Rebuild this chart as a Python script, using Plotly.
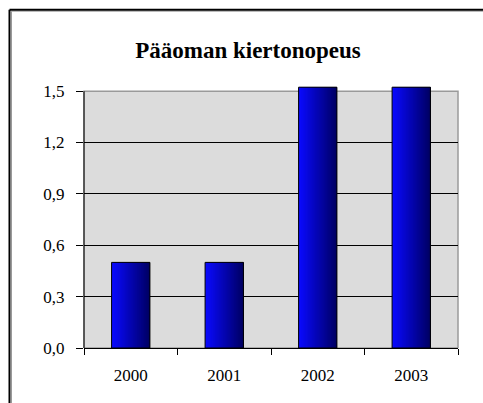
import plotly.graph_objects as go

# ---- data ----
years = ["2000", "2001", "2002", "2003"]
values = [0.5, 0.5, 1.523, 1.523]
y_ticks = [0.0, 0.3, 0.6, 0.9, 1.2, 1.5]
grid_ticks = [0.3, 0.6, 0.9, 1.2]
y_top = 1.5
title_text = "Pääoman kiertonopeus"

# ---- style ----
W, H = 483, 403
Y0_PX, Y15_PX = 348, 91          # pixel rows of 0.0 and 1.5
PX_PER = (Y0_PX - Y15_PX) / y_top
YMAX = 1.53                       # a little headroom so bars can overshoot
ML, MR, MB = 84, 25, H - Y0_PX
MT = Y0_PX - YMAX * PX_PER
PW, PH = W - ML - MR, H - MT - MB
FONT = "Liberation Serif, Times New Roman, serif"
BAR_W = 0.41
N_SLICES = 40

def px_x(p):
    return (p - ML) / PW

def px_y(p):
    return (H - MB - p) / PH

fig = go.Figure()

# gradient bars made of thin overlaid slices
start = (10, 10, 255)
end = (0, 0, 100)
sw = BAR_W / N_SLICES
for i in range(N_SLICES):
    t = i / (N_SLICES - 1)
    c = tuple(round(start[k] + (end[k] - start[k]) * t) for k in range(3))
    fig.add_trace(go.Bar(
        x=years, y=values,
        width=min(sw * 3, BAR_W - i * sw),
        offset=-BAR_W / 2 + i * sw,
        marker=dict(color="rgb(%d,%d,%d)" % c, line=dict(width=0)),
        showlegend=False, hoverinfo="skip",
    ))
# outline
fig.add_trace(go.Bar(
    x=years, y=values, width=BAR_W,
    marker=dict(color="rgba(0,0,0,0)", line=dict(color="black", width=1)),
    showlegend=False,
))

# second axis only for interior gridlines
fig.add_trace(go.Scatter(x=years, y=[None] * 4, yaxis="y2", showlegend=False,
                         hoverinfo="skip"))

fig.update_layout(
    width=W, height=H,
    margin=dict(l=ML, r=MR, t=MT, b=MB),
    paper_bgcolor="white",
    plot_bgcolor="white",
    separators=", ",
    barmode="overlay",
    title=dict(text="<b>" + title_text + "</b>",
               font=dict(family=FONT, size=23, color="black"),
               x=px_x(248), xref="paper", xanchor="center",
               y=1 - 50 / H, yanchor="middle"),
    font=dict(family=FONT, size=17, color="black"),
    xaxis=dict(
        type="category", categoryorder="array", categoryarray=years,
        showline=True, linecolor="black", linewidth=1,
        ticks="outside", tickson="boundaries", ticklen=6, tickcolor="black",
        showgrid=False, ticklabelstandoff=12,
        tickfont=dict(family=FONT, size=17, color="black"),
    ),
    yaxis=dict(
        range=[0, YMAX], tickvals=y_ticks, tickformat=".1f",
        showline=False,
        ticks="outside", ticklen=7, tickcolor="black",
        showgrid=False, zeroline=False, ticklabelstandoff=8,
        tickfont=dict(family=FONT, size=17, color="black"),
    ),
    yaxis2=dict(
        overlaying="y", range=[0, YMAX], tickvals=grid_ticks,
        showticklabels=False, showgrid=True, gridcolor="black", gridwidth=1.2,
        zeroline=False, showline=False,
    ),
    shapes=[
        # plot-area background + grey border up to 1.5
        dict(type="rect", xref="paper", yref="y", x0=0, x1=1, y0=0, y1=y_top,
             fillcolor="#dcdcdc", line=dict(color="#9a9a9a", width=1.5),
             layer="below"),
        # y axis line
        dict(type="line", xref="paper", yref="y", x0=0, x1=0, y0=0, y1=y_top,
             line=dict(color="black", width=1)),
        # outer chart frame (only top and left visible)
        dict(type="line", xref="paper", yref="paper",
             x0=px_x(11.5), x1=px_x(W + 5), y0=px_y(11), y1=px_y(11),
             line=dict(color="#9a9a9a", width=1)),
        dict(type="line", xref="paper", yref="paper",
             x0=px_x(11.5), x1=px_x(11.5), y0=px_y(11), y1=px_y(H + 5),
             line=dict(color="#9a9a9a", width=1)),
        dict(type="line", xref="paper", yref="paper",
             x0=px_x(9.5), x1=px_x(W + 5), y0=px_y(9.5), y1=px_y(9.5),
             line=dict(color="black", width=2)),
        dict(type="line", xref="paper", yref="paper",
             x0=px_x(9.5), x1=px_x(9.5), y0=px_y(9.5), y1=px_y(H + 5),
             line=dict(color="black", width=2)),
    ],
)

fig.write_html("out.html", config={"displayModeBar": False},
               post_script="document.body.style.margin='0';"
                           "document.body.style.overflow='hidden';"
                           "document.documentElement.style.overflow='hidden';")
